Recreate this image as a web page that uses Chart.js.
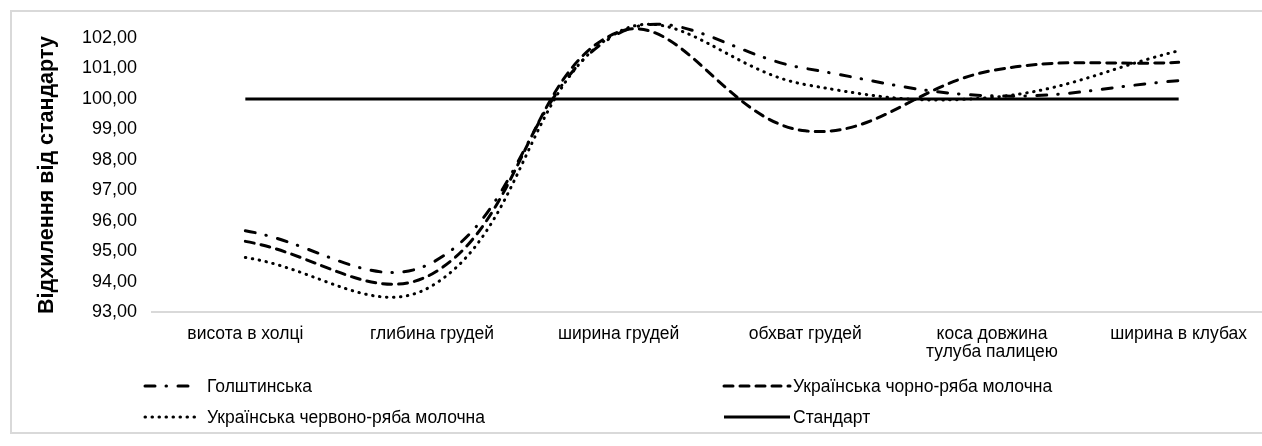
<!DOCTYPE html>
<html>
<head>
<meta charset="utf-8">
<script src="https://cdn.jsdelivr.net/npm/chart.js@4"></script>
<style>
  html, body { margin: 0; padding: 0; background: #fff; }
  #wrap { position: relative; width: 1262px; height: 446px; overflow: hidden; background: #fff; }
  #frame { position: absolute; left: 10px; top: 10px; width: 1290px; height: 424px; border: 2px solid #d9d9d9; box-sizing: border-box; }
  #box { position: absolute; left: 0; top: 0; width: 1290px; height: 446px; }
  .lg { position: absolute; font-family: "Liberation Sans", Arial, sans-serif; font-size: 17.5px; color: #000; white-space: nowrap; line-height: 20px; }
  .lg svg { position: absolute; top: 0; }
  .lg span { position: absolute; top: 0; }
</style>
</head>
<body>
<div id="wrap">
  <div id="frame"></div>
  <div id="box"><canvas id="breedChart" width="1290" height="446"></canvas></div>
  <div id="legend"></div>
</div>
<script>
// ===============================
// DATA
// ===============================

const categories = [
  "висота в холці",
  "глибина грудей",
  "ширина грудей",
  "обхват грудей",
  ["коса довжина", "тулуба палицею"],
  "ширина в клубах"
];

const seriesNames = [
  "Голштинська",
  "Українська чорно-ряба молочна",
  "Українська червоно-ряба молочна",
  "Стандарт"
];

const holstein  = [95.67, 94.62, 102.15, 101.00, 100.10, 100.60];
const blackPied = [95.32, 94.25, 102.20, 98.95, 100.93, 101.20];
const redPied   = [94.79, 93.86, 102.20, 100.47, 100.05, 101.58];
const standard  = [100, 100, 100, 100, 100, 100];

const yMin = 93;
const yMax = 102;

// line styles (dash patterns)
const dashes = [
  [10, 11, 0.5, 11.5],
  [9, 7],
  [0.5, 6.5],
  []
];

const FONT = "'Liberation Sans', Arial, sans-serif";

function fmt(v) {
  return v.toFixed(2).replace(".", ",");
}

// ===============================
// CHART
// ===============================

const allSeries = [holstein, blackPied, redPied, standard];

const ctx = document.getElementById("breedChart");

new Chart(ctx, {
  type: "line",
  data: {
    labels: categories,
    datasets: allSeries.map((s, i) => ({
      label: seriesNames[i],
      data: s,
      borderColor: "#000",
      borderWidth: 3,
      borderDash: dashes[i],
      borderCapStyle: i === 3 ? "butt" : "round",
      pointRadius: 0,
      tension: i === 3 ? 0 : 0.4,
      clip: false,
      fill: false
    }))
  },
  options: {
    responsive: false,
    animation: false,
    events: [],
    layout: { padding: { left: 10, top: 38, right: 18, bottom: 84 } },
    elements: { line: { capBezierPoints: false } },
    plugins: {
      legend: { display: false },
      tooltip: { enabled: false }
    },
    scales: {
      x: {
        offset: true,
        grid: { display: false, drawTicks: false },
        border: { display: true, color: "#d9d9d9", width: 2 },
        ticks: {
          color: "#000",
          font: { family: FONT, size: 17.5, lineHeight: 1.05 },
          padding: 13,
          autoSkip: false,
          maxRotation: 0
        },
        afterFit: (scale) => { scale.height = 50; }
      },
      y: {
        min: yMin,
        max: yMax,
        grid: { display: false, drawTicks: false },
        border: { display: false },
        ticks: {
          stepSize: 1,
          color: "#000",
          font: { family: FONT, size: 18 },
          padding: 15,
          callback: (v) => fmt(v)
        },
        title: {
          display: true,
          text: "Відхилення від стандарту",
          color: "#000",
          font: { family: FONT, size: 21.5, weight: "bold" },
          padding: { top: 24, bottom: 0 }
        },
        afterFit: (scale) => { scale.width = 142; }
      }
    }
  }
});

// ===============================
// LEGEND (html, two columns)
// ===============================

const legendPos = [
  { x: 143, y: 376, w: 52 },
  { x: 722, y: 376, w: 68 },
  { x: 143, y: 407, w: 56 },
  { x: 722, y: 407, w: 68 }
];
const textX = [207, 793, 207, 793];

const legendDiv = document.getElementById("legend");
seriesNames.forEach((name, i) => {
  const p = legendPos[i];
  const item = document.createElement("div");
  item.className = "lg";
  item.style.left = p.x + "px";
  item.style.top = p.y + "px";
  const cap = i === 3 ? "butt" : "round";
  const dash = dashes[i].length ? dashes[i].join(" ") : "none";
  item.innerHTML =
    `<svg width="${p.w + 4}" height="20" style="left:0">
       <line x1="2" y1="10" x2="${p.w}" y2="10" stroke="#000" stroke-width="3"
             stroke-linecap="${cap}" stroke-dasharray="${dash}"/>
     </svg>
     <span style="left:${textX[i] - p.x}px">${name}</span>`;
  legendDiv.appendChild(item);
});
</script>
</body>
</html>
